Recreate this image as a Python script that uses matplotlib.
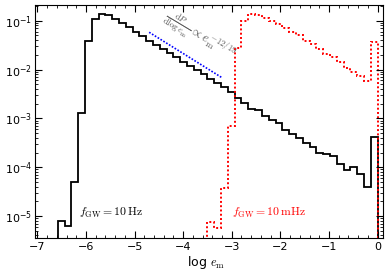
import numpy as np
import matplotlib
matplotlib.use('Agg')
import matplotlib.pyplot as plt
from matplotlib.ticker import MultipleLocator, LogLocator, NullFormatter

plt.rcParams['mathtext.fontset'] = 'cm'

# histogram binning in log e_m
bin_width = 0.14

# f_GW = 10 Hz (black), first bin starts at -6.58
black_start = -6.58
black_vals = [8e-6, 6.3e-6, 4.9e-5, 1.3e-3, 0.039, 0.107, 0.137, 0.13, 0.107,
              0.089, 0.073, 0.058, 0.048, 0.039, 0.032, 0.026, 0.0214, 0.0178,
              0.0145, 0.0117, 0.0098, 0.0080, 0.0065, 0.0054, 0.0044, 0.0035,
              0.0026, 0.0021, 0.00158, 0.00146, 0.00111, 0.00092, 0.00082,
              0.00059, 0.00047, 0.00040, 0.00032, 0.00026, 0.00020, 0.000183,
              0.00017, 0.000117, 8.7e-5, 1.0e-4, 7.1e-5, 4.0e-5, 4.1e-4]

# f_GW = 10 mHz (red), first bin starts at -3.50
red_start = -3.50
red_vals = [7.7e-6, 5.8e-6, 3.8e-5, 6.9e-4, 0.028, 0.10, 0.137, 0.13, 0.115,
            0.10, 0.087, 0.072, 0.06, 0.05, 0.039, 0.033, 0.026, 0.021, 0.018,
            0.014, 0.0107, 0.0089, 0.0074, 0.0058, 0.036]

# power-law guide dP/dlog e ~ e^(-12/19)
guide_x = [-4.7, -3.2]
guide_y = [0.058, 0.0068]

fig = plt.figure(figsize=(3.9, 2.7), dpi=100)
ax = fig.add_axes([0.0897, 0.1174, 0.8933, 0.8641])

black_edges = black_start + bin_width * np.arange(len(black_vals) + 1)
red_edges = red_start + bin_width * np.arange(len(red_vals) + 1)

ax.stairs(black_vals, black_edges, baseline=1e-9, color='k', lw=1.3)
ax.stairs(red_vals, red_edges, baseline=1e-9, color='red', lw=1.4, linestyle=(0, (1, 1.2)))
ax.plot(guide_x, guide_y, color='blue', lw=1.2, linestyle=(0, (1, 1)))

ax.set_yscale('log')
ax.set_xlim(-7.05, 0.12)
ax.set_ylim(3.5e-6, 0.21)

ax.xaxis.set_major_locator(MultipleLocator(1))
ax.xaxis.set_minor_locator(MultipleLocator(0.2))
ax.yaxis.set_minor_locator(LogLocator(base=10, subs=np.arange(2, 10)))
ax.yaxis.set_minor_formatter(NullFormatter())
ax.tick_params(which='both', direction='in', top=True, right=True, labelsize=8)
ax.tick_params(which='major', length=5)
ax.tick_params(which='minor', length=2.5)
ax.tick_params(axis='y', pad=2)
ax.tick_params(axis='x', pad=2.5)

ax.set_xlabel(r'log $e_{\rm m}$', fontsize=9)
ax.xaxis.set_label_coords(0.49, -0.068)

ax.text(-6.15, 1.15e-5, r'$f_{\rm GW} = 10\,{\rm Hz}$', fontsize=8.5,
        ha='left', va='center', color='k')
ax.text(-3.0, 1.15e-5, r'$f_{\rm GW} = 10\,{\rm mHz}$', fontsize=8.5,
        ha='left', va='center', color='red')
ax.text(-3.66, 0.047,
        r'$\frac{\mathrm{d}P}{\mathrm{d}\log e_{\rm m}} \propto e_{\rm m}^{-12/19}$',
        fontsize=9, color='0.35', rotation=-31, ha='center', va='center',
        rotation_mode='anchor')

plt.savefig('out.png', dpi=100)
